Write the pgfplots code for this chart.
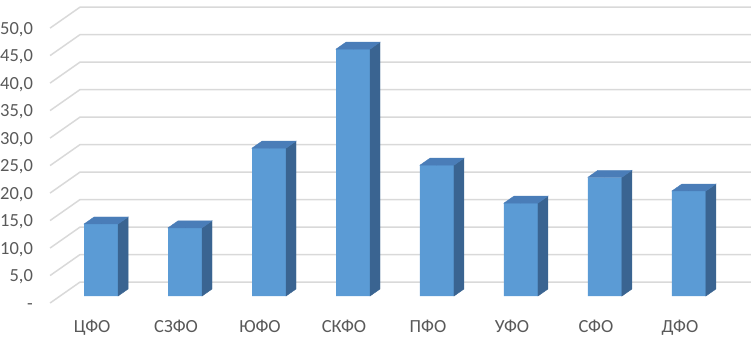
\documentclass[border=0pt]{standalone}
\usepackage{pgfplots}
\pgfplotsset{compat=1.18}
\usepackage{pgfplotstable}
\usepackage{fontspec}
\setmainfont{Carlito}
\definecolor{txt}{HTML}{595959}
\definecolor{gridc}{HTML}{D9D9D9}
\definecolor{front}{HTML}{5B9BD5}
\definecolor{topc}{HTML}{4A7DB8}
\definecolor{side}{HTML}{3A6491}
\pgfplotstableread{
x v
0 13.1
1 12.4
2 26.9
3 44.9
4 23.8
5 16.9
6 21.6
7 19.1
}\bardata
\pgfplotstableread{
x y
-0.6071 -1.2727
-0.25 2.5455
7.738 2.5455
nan nan
-0.6071 3.7273
-0.25 7.5455
7.738 7.5455
nan nan
-0.6071 8.7273
-0.25 12.5455
7.738 12.5455
nan nan
-0.6071 13.7273
-0.25 17.5455
7.738 17.5455
nan nan
-0.6071 18.7273
-0.25 22.5455
7.738 22.5455
nan nan
-0.6071 23.7273
-0.25 27.5455
7.738 27.5455
nan nan
-0.6071 28.7273
-0.25 32.5455
7.738 32.5455
nan nan
-0.6071 33.7273
-0.25 37.5455
7.738 37.5455
nan nan
-0.6071 38.7273
-0.25 42.5455
7.738 42.5455
nan nan
-0.6071 43.7273
-0.25 47.5455
7.738 47.5455
nan nan
-0.6071 48.7273
-0.25 52.5455
7.738 52.5455
}\griddata
\begin{document}
\begin{tikzpicture}
\begin{axis}[
  x=84bp, y=5.5bp,
  xmin=-1.2024, xmax=7.7976, ymin=-7.2727, ymax=53.818,
  axis line style={draw=none},
  major tick length=0pt,
  clip=false,
  xtick={-0.107,0.893,1.893,2.893,3.893,4.893,5.893,6.893},
  xticklabels={ЦФО,СЗФО,ЮФО,СКФО,ПФО,УФО,СФО,ДФО},
  ytick={-1.2727,3.7273,8.7273,13.7273,18.7273,23.7273,28.7273,33.7273,38.7273,43.7273,48.7273},
  yticklabels={{-},{5,0},{10,0},{15,0},{20,0},{25,0},{30,0},{35,0},{40,0},{45,0},{50,0}},
  yticklabel style={anchor=base east, inner sep=0pt, xshift=33bp, yshift=-6bp},
  xticklabel style={anchor=base, inner sep=0pt, yshift=4bp},
  tick label style={font=\fontsize{18.5bp}{21bp}\selectfont, text=txt},
]
\addplot[gridc, line width=1.5bp, unbounded coords=jump, mark=none] table[x=x,y=y]{\griddata};
\addplot[ybar, bar width=34bp, fill=front, draw=none] table[x=x,y=v]{\bardata};
\addplot[scatter, only marks, mark=*, mark size=0pt, mark options={draw=none,fill=none},
  visualization depends on={rawy \as \val},
  scatter/@pre marker code/.code={%
    \pgfmathsetmacro\hh{5.5*\val}%
    \fill[side] (17bp,0pt) -- (27bp,7bp) -- (27bp,7bp-\hh bp) -- (17bp,-\hh bp) -- cycle;
    \fill[topc] (-17bp,0pt) -- (-7bp,7bp) -- (27bp,7bp) -- (17bp,0pt) -- cycle;
  },
  scatter/@post marker code/.code={}
] table[x=x,y=v]{\bardata};
\end{axis}
\end{tikzpicture}
\end{document}
